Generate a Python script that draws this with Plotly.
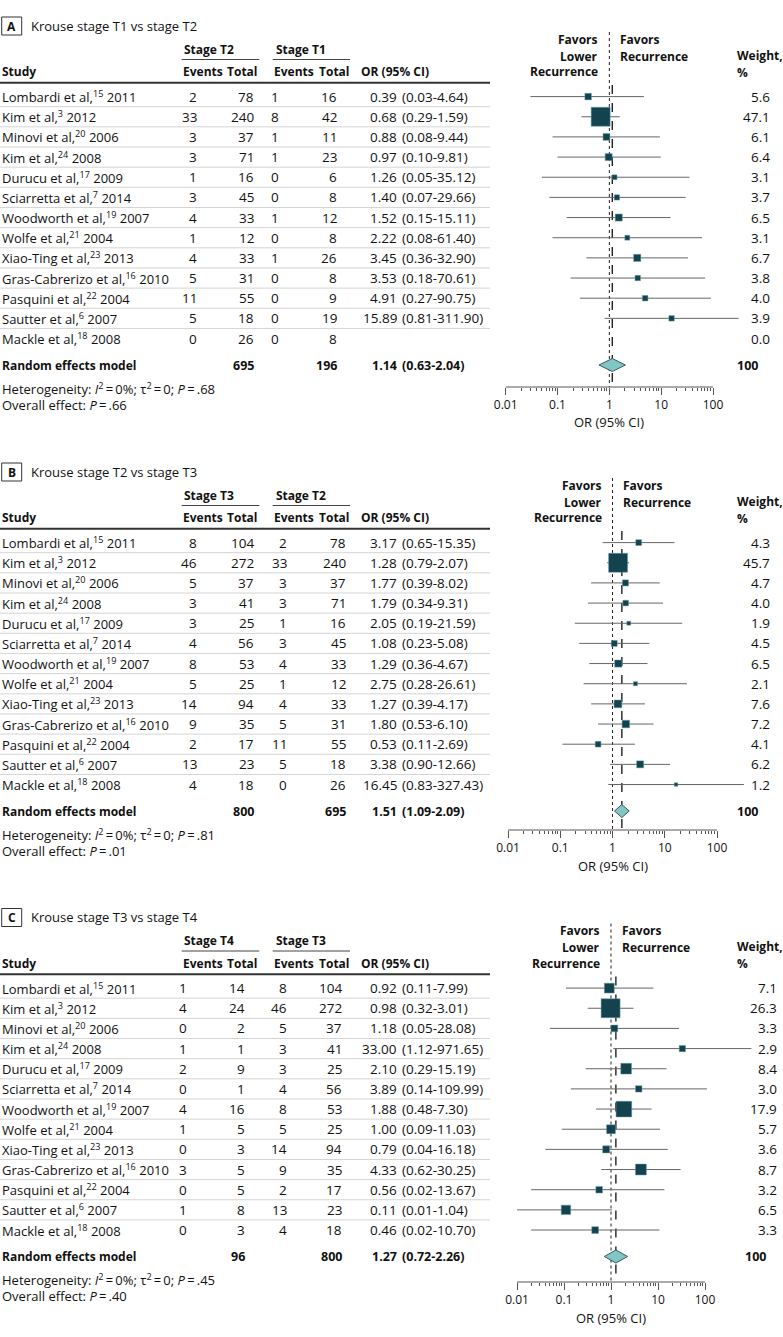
import math
import plotly.graph_objects as go

W, H = 783, 1337
FONT = "Open Sans"
TXT = "#111111"
FS = 13      # regular text size
FSN = 13.5   # numeric columns
FSB = 12     # bold text size

# ---------------- data ----------------
STUDIES = [
    "Lombardi et al,<sup>15</sup> 2011",
    "Kim et al,<sup>3</sup> 2012",
    "Minovi et al,<sup>20</sup> 2006",
    "Kim et al,<sup>24</sup> 2008",
    "Durucu et al,<sup>17</sup> 2009",
    "Sciarretta et al,<sup>7</sup> 2014",
    "Woodworth et al,<sup>19</sup> 2007",
    "Wolfe et al,<sup>21</sup> 2004",
    "Xiao-Ting et al,<sup>23</sup> 2013",
    "Gras-Cabrerizo et al,<sup>16</sup> 2010",
    "Pasquini et al,<sup>22</sup> 2004",
    "Sautter et al,<sup>6</sup> 2007",
    "Mackle et al,<sup>18</sup> 2008",
]

A_TITLE = "Krouse stage T1 vs stage T2"
A_GROUPS = ["Stage T2", "Stage T1"]
A_EV1 = [2, 33, 3, 3, 1, 3, 4, 1, 4, 5, 11, 5, 0]
A_TOT1 = [78, 240, 37, 71, 16, 45, 33, 12, 33, 31, 55, 18, 26]
A_EV2 = [1, 8, 1, 1, 0, 0, 1, 0, 1, 0, 0, 0, 0]
A_TOT2 = [16, 42, 11, 23, 6, 8, 12, 8, 26, 8, 9, 19, 8]
A_OR = [0.39, 0.68, 0.88, 0.97, 1.26, 1.40, 1.52, 2.22, 3.45, 3.53, 4.91, 15.89, None]
A_LO = [0.03, 0.29, 0.08, 0.10, 0.05, 0.07, 0.15, 0.08, 0.36, 0.18, 0.27, 0.81, None]
A_HI = [4.64, 1.59, 9.44, 9.81, 35.12, 29.66, 15.11, 61.40, 32.90, 70.61, 90.75, 311.90, None]
A_W = [5.6, 47.1, 6.1, 6.4, 3.1, 3.7, 6.5, 3.1, 6.7, 3.8, 4.0, 3.9, 0.0]
A_POOLED = [1.14, 0.63, 2.04]
A_TOTALS = [695, 196]
A_HET_P = ".68"
A_OVERALL_P = ".66"

B_TITLE = "Krouse stage T2 vs stage T3"
B_GROUPS = ["Stage T3", "Stage T2"]
B_EV1 = [8, 46, 5, 3, 3, 4, 8, 5, 14, 9, 2, 13, 4]
B_TOT1 = [104, 272, 37, 41, 25, 56, 53, 25, 94, 35, 17, 23, 18]
B_EV2 = [2, 33, 3, 3, 1, 3, 4, 1, 4, 5, 11, 5, 0]
B_TOT2 = [78, 240, 37, 71, 16, 45, 33, 12, 33, 31, 55, 18, 26]
B_OR = [3.17, 1.28, 1.77, 1.79, 2.05, 1.08, 1.29, 2.75, 1.27, 1.80, 0.53, 3.38, 16.45]
B_LO = [0.65, 0.79, 0.39, 0.34, 0.19, 0.23, 0.36, 0.28, 0.39, 0.53, 0.11, 0.90, 0.83]
B_HI = [15.35, 2.07, 8.02, 9.31, 21.59, 5.08, 4.67, 26.61, 4.17, 6.10, 2.69, 12.66, 327.43]
B_W = [4.3, 45.7, 4.7, 4.0, 1.9, 4.5, 6.5, 2.1, 7.6, 7.2, 4.1, 6.2, 1.2]
B_POOLED = [1.51, 1.09, 2.09]
B_TOTALS = [800, 695]
B_HET_P = ".81"
B_OVERALL_P = ".01"

C_TITLE = "Krouse stage T3 vs stage T4"
C_GROUPS = ["Stage T4", "Stage T3"]
C_EV1 = [1, 4, 0, 1, 2, 0, 4, 1, 0, 3, 0, 1, 0]
C_TOT1 = [14, 24, 2, 1, 9, 1, 16, 5, 3, 5, 5, 8, 3]
C_EV2 = [8, 46, 5, 3, 3, 4, 8, 5, 14, 9, 2, 13, 4]
C_TOT2 = [104, 272, 37, 41, 25, 56, 53, 25, 94, 35, 17, 23, 18]
C_OR = [0.92, 0.98, 1.18, 33.00, 2.10, 3.89, 1.88, 1.00, 0.79, 4.33, 0.56, 0.11, 0.46]
C_LO = [0.11, 0.32, 0.05, 1.12, 0.29, 0.14, 0.48, 0.09, 0.04, 0.62, 0.02, 0.01, 0.02]
C_HI = [7.99, 3.01, 28.08, 971.65, 15.19, 109.99, 7.30, 11.03, 16.18, 30.25, 13.67, 1.04, 10.70]
C_W = [7.1, 26.3, 3.3, 2.9, 8.4, 3.0, 17.9, 5.7, 3.6, 8.7, 3.2, 6.5, 3.3]
C_POOLED = [1.27, 0.72, 2.26]
C_TOTALS = [96, 800]
C_HET_P = ".45"
C_OVERALL_P = ".40"

TICK_VALS = [0.01, 0.1, 1, 10, 100]
TICK_TEXT = ["0.01", "0.1", "1", "10", "100"]

# ---------------- layout config (positions) ----------------
panels = [
    dict(key="A", title=A_TITLE, groups=A_GROUPS, ev1=A_EV1, tot1=A_TOT1, ev2=A_EV2, tot2=A_TOT2,
         orr=A_OR, lo=A_LO, hi=A_HI, w=A_W, pooled=A_POOLED, totals=A_TOTALS,
         het=A_HET_P, overall=A_OVERALL_P,
         dy=0.0, pa=505.7, pb=713.0, ax_y=387.0, at_y=422.0,
         cx=[197.5, 255.0, 280.0, 338.0], wt_r=771.0, wt100_r=759.0),
    dict(key="B", title=B_TITLE, groups=B_GROUPS, ev1=B_EV1, tot1=B_TOT1, ev2=B_EV2, tot2=B_TOT2,
         orr=B_OR, lo=B_LO, hi=B_HI, w=B_W, pooled=B_POOLED, totals=B_TOTALS,
         het=B_HET_P, overall=B_OVERALL_P,
         dy=446.0, pa=508.0, pb=717.0, ax_y=830.0, at_y=866.0,
         cx=[197.5, 255.0, 288.0, 347.0], wt_r=771.0, wt100_r=759.0),
    dict(key="C", title=C_TITLE, groups=C_GROUPS, ev1=C_EV1, tot1=C_TOT1, ev2=C_EV2, tot2=C_TOT2,
         orr=C_OR, lo=C_LO, hi=C_HI, w=C_W, pooled=C_POOLED, totals=C_TOTALS,
         het=C_HET_P, overall=C_OVERALL_P,
         dy=891.5, pa=517.0, pb=705.0, ax_y=1282.0, at_y=1318.0,
         cx=[188.0, 246.0, 288.0, 343.0], wt_r=778.0, wt100_r=767.0),
]

SQ_COLOR = "#12434f"
SQ_LINE = "#6a9ea5"
DIA_FILL = "#80c6c4"
DIA_LINE = "#3a5a5e"
CI_COLOR = "#666666"
R0, R1 = -2.4, 3.1
ROW0, ROWSTEP = 96.6, 20.16

fig = go.Figure()
annotations = []
shapes = []


def ann(x, y, text, xanchor="left", size=None, bold=False, color=TXT):
    if size is None:
        size = FSB if bold else FS
    annotations.append(dict(
        x=x, y=y, xref="x", yref="y", text=f"<b>{text}</b>" if bold else text,
        showarrow=False, xanchor=xanchor, yanchor="middle", borderpad=0,
        font=dict(size=size, color=color, family=FONT)))


def hline(x0, x1, y, color, width):
    shapes.append(dict(type="line", xref="x", yref="y", x0=x0, x1=x1, y0=y, y1=y,
                       line=dict(color=color, width=width)))


layout_axes = {}
for k, p in enumerate(panels):
    dy = p["dy"]
    xa = f"x{k + 2}"
    axname = f"xaxis{k + 2}"
    dw = (p["pb"] - p["pa"]) / 4.0
    px0 = p["pa"] + (R0 + 2) * dw
    px1 = p["pa"] + (R1 + 2) * dw
    x_one = (p["pa"] + p["pb"]) / 2.0
    minor_vals = [m * 10 ** e for e in range(-2, 2) for m in range(2, 10)]
    layout_axes[axname] = dict(
        type="log", range=[R0, R1], domain=[px0 / W, px1 / W], anchor="free",
        position=1 - p["ax_y"] / H, showgrid=False, zeroline=False, showline=False,
        tickmode="array", tickvals=TICK_VALS, ticktext=TICK_TEXT, ticks="outside",
        ticklen=7, tickwidth=1, tickcolor="#555",
        tickfont=dict(size=12, color=TXT, family=FONT),
        minor=dict(tickmode="array", tickvals=minor_vals, ticks="outside", ticklen=3,
                   tickwidth=1, tickcolor="#555"),
        fixedrange=True,
    )

    # --- title box ---
    shapes.append(dict(type="rect", xref="x", yref="y", x0=1.7, x1=21.7, y0=17 + dy, y1=35 + dy,
                       line=dict(color="#333", width=1)))
    ann(11.7, 26 + dy, p["key"], xanchor="center", bold=True)
    ann(29.5, 25.5 + dy, p["title"], size=13)

    # --- column headers ---
    ann(182.7, 49 + dy, p["groups"][0], bold=True)
    ann(275.0, 49 + dy, p["groups"][1], bold=True)
    hline(181.7, 259.3, 59.5 + dy, "#444", 1)
    hline(272.7, 350.0, 59.5 + dy, "#444", 1)
    ann(1, 71.8 + dy, "Study", bold=True)
    ann(181.7, 71.8 + dy, "Events", bold=True)
    ann(259.3, 71.8 + dy, "Total", xanchor="right", bold=True)
    ann(273.3, 71.8 + dy, "Events", bold=True)
    ann(350.7, 71.8 + dy, "Total", xanchor="right", bold=True)
    ann(360.0, 71.8 + dy, "OR (95% CI)", bold=True)
    hline(0, 490, 82.8 + dy, "#333", 2)

    ann(x_one - 10, 39.3 + dy, "Favors", xanchor="right", bold=True)
    ann(x_one - 10, 56.0 + dy, "Lower", xanchor="right", bold=True)
    ann(x_one - 10, 71.8 + dy, "Recurrence", xanchor="right", bold=True)
    ann(x_one + 9.5, 39.3 + dy, "Favors", bold=True)
    ann(x_one + 9.5, 56.0 + dy, "Recurrence", bold=True)
    ann(736.0, 55.3 + dy, "Weight,", bold=True)
    ann(736.0, 72.0 + dy, "%", bold=True)

    # --- rows ---
    n = len(STUDIES)
    ys = [ROW0 + dy + ROWSTEP * i for i in range(n)]
    for i in range(n):
        y = ys[i]
        if i < n - 1:
            hline(0, 490, y + ROWSTEP / 2, "#d4d4d4", 1)
        ann(1, y, STUDIES[i])
        ann(p["cx"][0], y, str(p["ev1"][i]), xanchor="right", size=FSN)
        ann(p["cx"][1], y, str(p["tot1"][i]), xanchor="right", size=FSN)
        ann(p["cx"][2], y, str(p["ev2"][i]), xanchor="right", size=FSN)
        ann(p["cx"][3], y, str(p["tot2"][i]), xanchor="right", size=FSN)
        if p["orr"][i] is not None:
            ann(398.0, y, f"{p['orr'][i]:.2f}", xanchor="right", size=FSN)
            ann(401.0, y, f"({p['lo'][i]:.2f}-{p['hi'][i]:.2f})", size=FSN)
        ann(p["wt_r"], y, f"{p['w'][i]:.1f}", xanchor="right", size=FSN)

    re_y = 365.0 + dy
    ann(1, re_y, "Random effects model", bold=True)
    ann(p["cx"][1], re_y, str(p["totals"][0]), xanchor="right", bold=True, size=12.5)
    ann(p["cx"][3], re_y, str(p["totals"][1]), xanchor="right", bold=True, size=12.5)
    pe, pl, ph = p["pooled"]
    ann(398.0, re_y, f"{pe:.2f}", xanchor="right", bold=True, size=12.5)
    ann(401.0, re_y, f"({pl:.2f}-{ph:.2f})", bold=True, size=12.5)
    ann(p["wt100_r"], re_y, "100", xanchor="right", bold=True, size=12.5)
    ann(1, 388.3 + dy,
        f"Heterogeneity: <i>I</i><sup>2</sup>\u2009=\u20090%; τ<sup>2</sup>\u2009=\u20090; <i>P</i>\u2009=\u2009{p['het']}")
    ann(1, 404.5 + dy, f"Overall effect: <i>P</i>\u2009=\u2009{p['overall']}")

    # axis title
    ann(x_one, p["at_y"], "OR (95% CI)", xanchor="center", size=13)

    # --- forest plot traces ---
    fig.add_trace(go.Scatter(x=[1, 1], y=[32 + dy, p["ax_y"]], mode="lines", xaxis=xa, yaxis="y",
                             line=dict(color="#222", width=1, dash="dot"), hoverinfo="skip"))
    fig.add_trace(go.Scatter(x=[pe, pe], y=[85 + dy, p["ax_y"]], mode="lines", xaxis=xa, yaxis="y",
                             line=dict(color="#222", width=1.4, dash="dash"), hoverinfo="skip"))
    fig.add_trace(go.Scatter(x=[TICK_VALS[0], TICK_VALS[-1]], y=[p["ax_y"], p["ax_y"]], mode="lines",
                             xaxis=xa, yaxis="y", line=dict(color="#555", width=1), hoverinfo="skip"))
    cx, cy = [], []
    for i in range(n):
        if p["orr"][i] is None:
            continue
        cx += [p["lo"][i], p["hi"][i], None]
        cy += [ys[i], ys[i], None]
    fig.add_trace(go.Scatter(x=cx, y=cy, mode="lines", xaxis=xa, yaxis="y",
                             line=dict(color=CI_COLOR, width=1), hoverinfo="skip"))
    wmax = max(p["w"])
    sx, sy, ss = [], [], []
    for i in range(n):
        if p["orr"][i] is None or p["w"][i] <= 0:
            continue
        sx.append(p["orr"][i])
        sy.append(ys[i])
        ss.append(max(3.5, 19.0 * math.sqrt(p["w"][i] / wmax)))
    fig.add_trace(go.Scatter(x=sx, y=sy, mode="markers", xaxis=xa, yaxis="y",
                             marker=dict(symbol="square", size=ss, color=SQ_COLOR, opacity=1,
                                         line=dict(color=SQ_LINE, width=0.5)),
                             hoverinfo="skip"))
    fig.add_trace(go.Scatter(x=[pl, pe, ph, pe, pl], y=[re_y, re_y - 6.5, re_y, re_y + 6.5, re_y],
                             mode="lines", fill="toself", fillcolor=DIA_FILL, xaxis=xa, yaxis="y",
                             line=dict(color=DIA_LINE, width=1), hoverinfo="skip"))

fig.update_layout(
    width=W, height=H, margin=dict(l=0, r=0, t=0, b=0),
    paper_bgcolor="white", plot_bgcolor="rgba(0,0,0,0)", showlegend=False,
    xaxis=dict(range=[0, W], domain=[0, 1], visible=False, fixedrange=True),
    yaxis=dict(range=[H, 0], domain=[0, 1], visible=False, fixedrange=True),
    annotations=annotations, shapes=shapes,
    font=dict(family=FONT, color=TXT),
    **layout_axes,
)

fig.write_html("out.html", config={"displayModeBar": False},
               post_script="document.body.style.margin='0';")
